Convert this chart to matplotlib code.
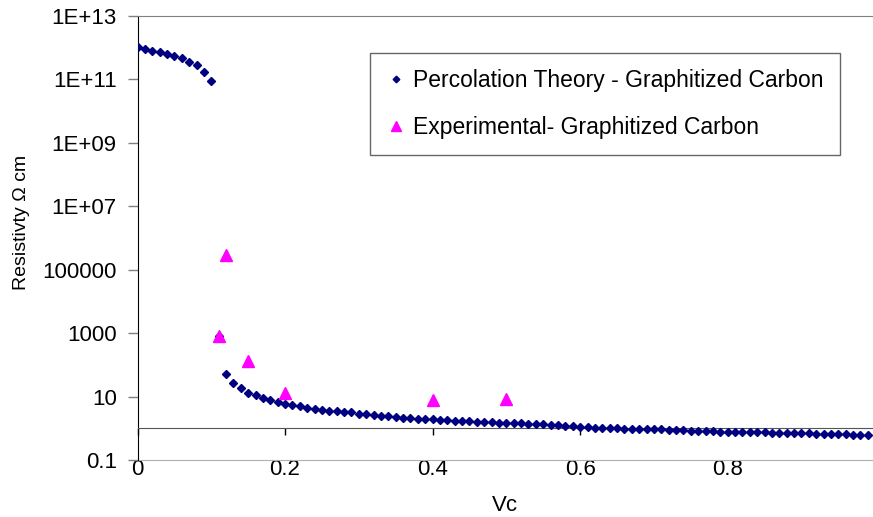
import numpy as np
import matplotlib
matplotlib.use('Agg')
import matplotlib.pyplot as plt

# percolation theory, below the threshold (Vc = 0 .. 0.10)
vc_low = [0.00, 0.01, 0.02, 0.03, 0.04, 0.05, 0.06, 0.07, 0.08, 0.09, 0.10]
rho_low = [1.0e12, 8.9e11, 8.0e11, 7.2e11, 6.2e11, 5.4e11, 4.7e11, 3.6e11, 2.7e11, 1.7e11, 8.5e10]

# percolation theory, above the threshold (Vc = 0.11 .. 0.99)
vc_high = [round(0.11 + 0.01 * i, 2) for i in range(89)]
rho_high = [800, 50, 26, 18, 13, 10.8, 9.1, 7.7, 6.8, 5.9,
            5.5, 4.9, 4.5, 4.1, 3.8, 3.5, 3.4, 3.3, 3.2, 2.9,
            2.8, 2.7, 2.5, 2.35, 2.3, 2.15, 2.1, 2.0, 1.95, 1.9,
            1.85, 1.8, 1.75, 1.7, 1.67, 1.63, 1.58, 1.55, 1.51, 1.48,
            1.45, 1.42, 1.38, 1.35, 1.32, 1.28, 1.24, 1.2, 1.15, 1.11,
            1.08, 1.05, 1.02, 1.0, 0.99, 0.98, 0.97, 0.96, 0.95, 0.94,
            0.92, 0.90, 0.88, 0.86, 0.85, 0.83, 0.82, 0.80, 0.79, 0.77,
            0.77, 0.76, 0.75, 0.74, 0.74, 0.73, 0.72, 0.71, 0.71, 0.70,
            0.69, 0.68, 0.67, 0.67, 0.66, 0.65, 0.63, 0.62, 0.60]

# experimental points
vc_exp = [0.11, 0.12, 0.15, 0.20, 0.40, 0.50]
rho_exp = [800, 2.9e5, 130, 12.5, 7.7, 8.1]

yticks = [0.1, 10, 1000, 1e5, 1e7, 1e9, 1e11, 1e13]
ytick_labels = ['0.1', '10', '1000', '100000', '1E+07', '1E+09', '1E+11', '1E+13']
xticks = [0, 0.2, 0.4, 0.6, 0.8]
xtick_labels = ['0', '0.2', '0.4', '0.6', '0.8']

plt.rcParams['font.family'] = ['Liberation Sans', 'DejaVu Sans']

fig = plt.figure(figsize=(8.73, 5.17), dpi=100)
ax = fig.add_axes([137.5 / 873, 1 - 460 / 517, 1 - 137.5 / 873, (460 - 15.7) / 517])

theory_x = vc_low + vc_high
theory_y = rho_low + rho_high
ax.plot(theory_x, theory_y, linestyle='none', marker='D', markersize=4.5,
        color='#000080', label='Percolation Theory - Graphitized Carbon', zorder=3)
ax.plot(vc_exp, rho_exp, linestyle='none', marker='^', markersize=9,
        color='#ff00ff', label='Experimental- Graphitized Carbon', zorder=4)

ax.set_yscale('log')
ax.set_ylim(0.1, 1e13)
ax.set_xlim(0, 0.997)
ax.set_yticks(yticks)
ax.set_yticklabels(ytick_labels)
ax.yaxis.set_minor_locator(matplotlib.ticker.NullLocator())
ax.tick_params(axis='y', length=7, width=1, color='#808080', pad=8, labelsize=16)

# category axis crosses at 1
ax.spines['bottom'].set_position(('data', 1))
ax.spines['bottom'].set_color('#555555')
ax.set_xticks(xticks)
ax.tick_params(axis='x', length=5, width=1, color='black', labelbottom=False)
ax.spines['right'].set_visible(False)
ax.spines['top'].set_color('#808080')
ax.spines['left'].set_color('black')

sec = ax.secondary_xaxis(0)
sec.set_xticks(xticks)
sec.set_xticklabels(xtick_labels)
sec.tick_params(axis='x', length=0, pad=-1, labelsize=16)
sec.spines['bottom'].set_color('#b0b0b0')

ax.set_ylabel('Resistivty \u03a9 cm', fontsize=14, va='center')
ax.yaxis.set_label_coords((22 - 137.5) / 735.5, (460 - 223) / 444)
ax.set_xlabel('Vc', fontsize=16, va='center')
ax.xaxis.set_label_coords(0.4997, (460 - 505) / 444)

leg = ax.legend(loc='upper left', bbox_to_anchor=(0.316, 0.916), borderaxespad=0,
                fontsize=16.5, frameon=True, fancybox=False, markerscale=0.75,
                handlelength=0.9, handletextpad=0.3, borderpad=0.7, labelspacing=1.05)
leg.get_frame().set_edgecolor('#404040')
leg.get_frame().set_linewidth(1)

fig.savefig('out.png', dpi=100)
